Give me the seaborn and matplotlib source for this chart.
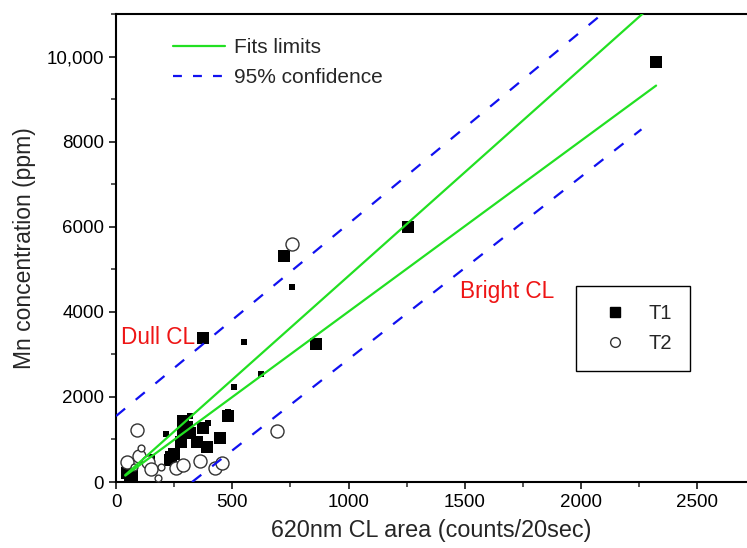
import matplotlib
matplotlib.use('Agg')
import matplotlib.pyplot as plt
import seaborn as sns
from matplotlib.lines import Line2D
from matplotlib.ticker import MultipleLocator

# T1 samples, large squares
t1_big_x = [47, 69, 62, 237, 232, 250, 280, 288, 288, 305, 318, 348, 374, 391, 447, 482, 374, 723, 860, 1256, 2323]
t1_big_y = [212, 140, 60, 588, 518, 650, 941, 1224, 1435, 1300, 1150, 941, 1270, 824, 1035, 1560, 3390, 5318, 3250, 6000, 9880]
# T1 samples, small squares
t1_small_x = [155, 215, 318, 396, 482, 507, 551, 624, 757]
t1_small_y = [588, 1129, 1553, 1388, 1650, 2235, 3294, 2541, 4588]
# T2 samples, large circles
t2_big_x = [47, 90, 99, 138, 150, 258, 288, 361, 426, 456, 692, 757]
t2_big_y = [470, 1224, 612, 470, 306, 330, 390, 494, 329, 447, 1200, 5600]
# T2 samples, small circles
t2_small_x = [107, 77, 194, 181]
t2_small_y = [800, 353, 353, 94]

# fit limits and 95% confidence bands
fit_x = [40, 2323]
fit_upper_y = [165, 11290]
fit_lower_y = [150, 9318]
conf_upper_x = [0, 2260]
conf_upper_y = [1550, 11765]
conf_lower_x = [327, 2260]
conf_lower_y = [0, 8290]

x_ticks = [0, 500, 1000, 1500, 2000, 2500]
y_ticks = [0, 2000, 4000, 6000, 8000, 10000]
y_tick_labels = ['0', '2000', '4000', '6000', '8000', '10,000']

green = '#22e022'
blue = '#1010f0'
red = '#ee1515'

sns.set_style('ticks')
plt.rcParams['font.family'] = ['Liberation Sans', 'DejaVu Sans']

fig = plt.figure(figsize=(7.47, 5.48), dpi=100)
ax = fig.add_axes([0.1553, 0.1204, 0.8447, 0.854])

sns.scatterplot(x=t1_big_x, y=t1_big_y, marker='s', s=68, color='black', edgecolor='black', linewidth=0, ax=ax, zorder=3)
sns.scatterplot(x=t1_small_x, y=t1_small_y, marker='s', s=22, color='black', edgecolor='black', linewidth=0, ax=ax, zorder=3)
sns.scatterplot(x=t2_big_x, y=t2_big_y, marker='o', s=88, color='white', edgecolor='#333333', linewidth=1, ax=ax, zorder=4)
sns.scatterplot(x=t2_small_x, y=t2_small_y, marker='o', s=24, color='white', edgecolor='#333333', linewidth=1, ax=ax, zorder=4)

dash = (0, (5.3, 6.2))
sns.lineplot(x=fit_x, y=fit_upper_y, color=green, linewidth=1.6, ax=ax, zorder=5)
sns.lineplot(x=fit_x, y=fit_lower_y, color=green, linewidth=1.6, ax=ax, zorder=5)
sns.lineplot(x=conf_upper_x, y=conf_upper_y, color=blue, linewidth=1.6, linestyle=dash, ax=ax, zorder=5)
sns.lineplot(x=conf_lower_x, y=conf_lower_y, color=blue, linewidth=1.6, linestyle=dash, ax=ax, zorder=5)

ax.set_xlim(0, 2714)
ax.set_ylim(0, 11000)
ax.set_xticks(x_ticks)
ax.set_xticklabels([str(t) for t in x_ticks])
ax.set_yticks(y_ticks)
ax.set_yticklabels(y_tick_labels)
ax.xaxis.set_minor_locator(MultipleLocator(250))
ax.yaxis.set_minor_locator(MultipleLocator(1000))
ax.tick_params(which='major', direction='out', length=5, width=1.1, labelsize=13.5, colors='black')
ax.tick_params(which='minor', direction='out', length=3.5, width=1.1)
ax.spines['right'].set_visible(False)
for s in ['left', 'bottom', 'top']:
    ax.spines[s].set_linewidth(1.5)
    ax.spines[s].set_color('black')

ax.set_xlabel('620nm CL area (counts/20sec)', fontsize=16.8, labelpad=6)
ax.set_ylabel('Mn concentration (ppm)', fontsize=16.5, labelpad=8)

ax.text(21, 3388, 'Dull CL', color=red, fontsize=16.3, va='center', ha='left')
ax.text(1480, 4470, 'Bright CL', color=red, fontsize=16.3, va='center', ha='left')

line_handles = [Line2D([], [], color=green, linewidth=1.6),
                Line2D([], [], color=blue, linewidth=1.6, linestyle=(0, (4, 5)))]
leg1 = ax.legend(line_handles, ['Fits limits', '95% confidence'], loc='upper left',
                 bbox_to_anchor=(0.06, 0.988), frameon=False, fontsize=15,
                 handlelength=2.5, handletextpad=0.45, labelspacing=0.5)
ax.add_artist(leg1)

mark_handles = [Line2D([], [], marker='s', color='black', linestyle='none', markersize=7),
                Line2D([], [], marker='o', markerfacecolor='white', markeredgecolor='#333333',
                       linestyle='none', markersize=7)]
leg2 = ax.legend(mark_handles, ['T1', 'T2'], loc='upper left', bbox_to_anchor=(0.729, 0.419),
                 borderaxespad=0, fontsize=14.5, fancybox=False, framealpha=1,
                 borderpad=0.9, handlelength=2.08, handletextpad=0.6, labelspacing=0.55)
leg2.get_frame().set_edgecolor('black')
leg2.get_frame().set_linewidth(1.0)

fig.savefig('out.png', dpi=100)
